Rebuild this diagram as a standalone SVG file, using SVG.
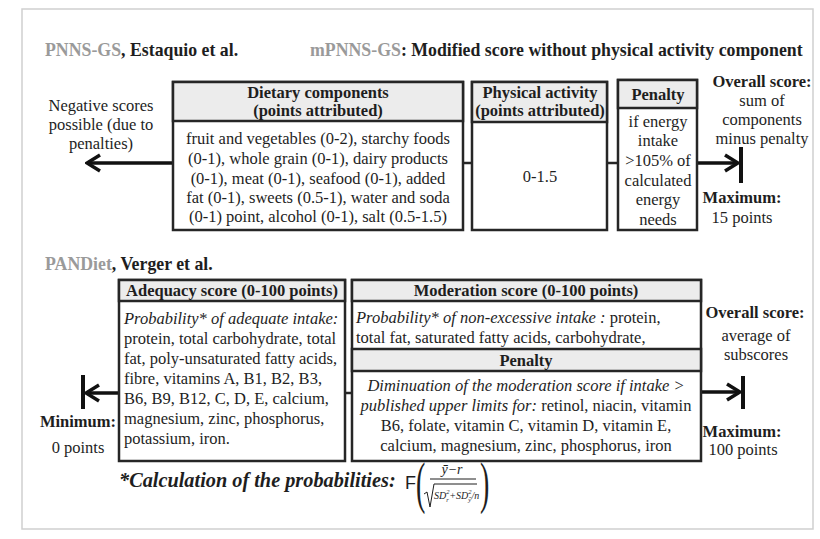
<svg xmlns="http://www.w3.org/2000/svg" width="820" height="539" viewBox="0 0 820 539">
<style>
.t{font-size:16.5px;fill:#1e1e1e}
.c{text-anchor:middle}
.b{font-weight:bold}
.i{font-style:italic}
.g{fill:#9a9a9a}
.h{font-size:16.5px;font-weight:bold}
.ti{font-size:17.8px;font-weight:bold}
.box{fill:#fff;stroke:#262626;stroke-width:2.5}
.hdr{fill:#ececec;stroke:#262626;stroke-width:2.5}
.ln{stroke:#111;stroke-width:3.5;fill:none}
.tick{stroke:#111;stroke-width:4;fill:none}
.stub{stroke:#262626;stroke-width:2.5;fill:none}
</style>
<defs>
<marker id="arr" viewBox="-16 -11 18 22" refX="0" refY="0" markerWidth="18" markerHeight="22" markerUnits="userSpaceOnUse" orient="auto">
<path d="M-13,-8 L0,0 L-13,8" stroke="#111" stroke-width="3.5" fill="none"/>
</marker>
</defs>
<rect x="0" y="0" width="820" height="539" fill="#fff"/>
<rect x="22" y="9" width="791" height="520" fill="#fff" stroke="#cfcfcf" stroke-width="1.5"/>

<g font-family="Liberation Serif, Tinos, Times New Roman, serif">
<g id="titles">
<text class="t ti" x="45" y="56"><tspan class="g">PNNS-GS</tspan>, Estaquio et al.</text>
<text class="t ti" x="310" y="56"><tspan class="g">mPNNS-GS</tspan>: Modified score without physical activity component</text>
<text class="t ti" x="45" y="270"><tspan class="g">PANDiet</tspan>, Verger et al.</text>
</g>

<g id="connectors">
<line class="ln" x1="173" y1="163" x2="87" y2="163" marker-end="url(#arr)"/>
<line class="stub" x1="463" y1="163" x2="472" y2="163"/>
<line class="stub" x1="607" y1="163" x2="618" y2="163"/>
<line class="ln" x1="697" y1="163" x2="738" y2="163" marker-end="url(#arr)"/>
<line class="tick" x1="741" y1="147" x2="741" y2="183"/>
<line class="ln" x1="119" y1="393" x2="86" y2="393" marker-end="url(#arr)"/>
<line class="tick" x1="83" y1="375" x2="83" y2="409"/>
<line class="stub" x1="345" y1="393" x2="352" y2="393"/>
<line class="ln" x1="701" y1="392" x2="740" y2="392" marker-end="url(#arr)"/>
<line class="tick" x1="743" y1="376" x2="743" y2="409"/>
</g>

<g id="neg-note">
<text class="t c" x="101" y="111">Negative scores</text>
<text class="t c" x="101" y="130">possible (due to</text>
<text class="t c" x="101" y="149">penalties)</text>
</g>

<g id="dietary">
<rect class="box" x="173" y="82" width="290" height="148"/>
<rect class="hdr" x="173" y="82" width="290" height="39"/>
<text class="t c h" x="318" y="98">Dietary components</text>
<text class="t c h" x="318" y="116">(points attributed)</text>
<text class="t c" x="318" y="144">fruit and vegetables (0-2), starchy foods</text>
<text class="t c" x="318" y="164">(0-1), whole grain (0-1), dairy products</text>
<text class="t c" x="318" y="184">(0-1), meat (0-1), seafood (0-1), added</text>
<text class="t c" x="318" y="203">fat (0-1), sweets (0.5-1), water and soda</text>
<text class="t c" x="318" y="222">(0-1) point, alcohol (0-1), salt  (0.5-1.5)</text>
</g>

<g id="physical">
<rect class="box" x="472" y="82" width="135" height="148"/>
<rect class="hdr" x="472" y="82" width="135" height="40"/>
<text class="t c h" x="540" y="98">Physical activity</text>
<text class="t c h" x="540" y="116">(points attributed)</text>
<text class="t c" x="540" y="182">0-1.5</text>
</g>

<g id="penalty-top">
<rect class="box" x="618" y="80" width="79" height="150"/>
<rect class="hdr" x="618" y="80" width="79" height="28"/>
<text class="t c h" x="658" y="100">Penalty</text>
<text class="t c" x="658" y="127">if energy</text>
<text class="t c" x="658" y="146">intake</text>
<text class="t c" x="658" y="166">&gt;105% of</text>
<text class="t c" x="658" y="186">calculated</text>
<text class="t c" x="658" y="205">energy</text>
<text class="t c" x="658" y="225">needs</text>
</g>

<g id="overall-top">
<text class="t c b" x="762" y="87">Overall score:</text>
<text class="t c" x="762" y="106">sum of</text>
<text class="t c" x="762" y="125">components</text>
<text class="t c" x="762" y="144">minus penalty</text>
<text class="t c b" x="742" y="203">Maximum:</text>
<text class="t c" x="742" y="223">15 points</text>
</g>

<g id="adequacy">
<rect class="box" x="119" y="280" width="226" height="181"/>
<rect class="hdr" x="119" y="280" width="226" height="21"/>
<text class="t c h" x="232" y="296">Adequacy score (0-100 points)</text>
<text class="t i" x="124" y="323.5">Probability* of adequate intake:</text>
<text class="t" x="124" y="343.5">protein, total carbohydrate, total</text>
<text class="t" x="124" y="363.5">fat, poly-unsaturated fatty acids,</text>
<text class="t" x="124" y="383.5">fibre, vitamins A, B1, B2,  B3,</text>
<text class="t" x="124" y="403.5">B6, B9, B12, C, D, E, calcium,</text>
<text class="t" x="124" y="423.5">magnesium, zinc, phosphorus,</text>
<text class="t" x="124" y="443.5">potassium, iron.</text>
</g>

<g id="moderation">
<rect class="box" x="352" y="280" width="349" height="181"/>
<rect class="hdr" x="352" y="280" width="349" height="21"/>
<rect class="hdr" x="352" y="349" width="349" height="22"/>
<text class="t c h" x="526" y="296">Moderation score (0-100 points)</text>
<text class="t" x="356" y="323"><tspan class="i">Probability* of non-excessive intake :</tspan> protein,</text>
<text class="t" x="356" y="343">total fat, saturated fatty acids, carbohydrate,</text>
<text class="t c h" x="526" y="366">Penalty</text>
<text class="t c i" x="526" y="391">Diminuation of the moderation score if intake &gt;</text>
<text class="t c" x="526" y="411"><tspan class="i">published upper limits for:</tspan> retinol, niacin, vitamin</text>
<text class="t c" x="526" y="431">B6, folate, vitamin C, vitamin D, vitamin E,</text>
<text class="t c" x="526" y="451">calcium, magnesium, zinc, phosphorus, iron</text>
</g>

<g id="min-note">
<text class="t c b" x="78" y="427">Minimum:</text>
<text class="t c" x="78" y="453">0 points</text>
</g>

<g id="overall-bottom">
<text class="t c b" x="755" y="318">Overall score:</text>
<text class="t c" x="756" y="341">average of</text>
<text class="t c" x="756" y="360">subscores</text>
<text class="t c b" x="742" y="437">Maximum:</text>
<text class="t c" x="743" y="455">100 points</text>
</g>

<g id="formula">
<text class="t b i" x="119" y="487" style="font-size:20.3px">*Calculation of the probabilities:</text>
<text x="405" y="489" font-family="Liberation Sans, Arial, sans-serif" style="font-size:18px;fill:#1e1e1e">F</text>
<text x="0" y="0" transform="translate(416,502) scale(0.5,1)" style="font-size:56px;fill:#1e1e1e">(</text>
<text class="t i c" x="452" y="474" style="font-size:14px">ȳ−r</text>
<line x1="430" y1="479" x2="476" y2="479" stroke="#1e1e1e" stroke-width="1"/>
<path d="M424,494 L427,492 L430,507 L434,484 L477,484" stroke="#1e1e1e" stroke-width="1" fill="none"/>
<text class="t i" x="434" y="499" style="font-size:10px">SD<tspan dy="-5" style="font-size:6.5px">2</tspan><tspan dx="-3.3" dy="8" style="font-size:6.5px">r</tspan><tspan dx="0.5" dy="-3">+SD</tspan><tspan dy="-5" style="font-size:6.5px">2</tspan><tspan dx="-3.3" dy="8" style="font-size:6.5px">ȳ</tspan><tspan dx="0.5" dy="-3">/n</tspan></text>
<text x="0" y="0" transform="translate(480,502) scale(0.5,1)" style="font-size:56px;fill:#1e1e1e">)</text>
</g>
</g>
</svg>
